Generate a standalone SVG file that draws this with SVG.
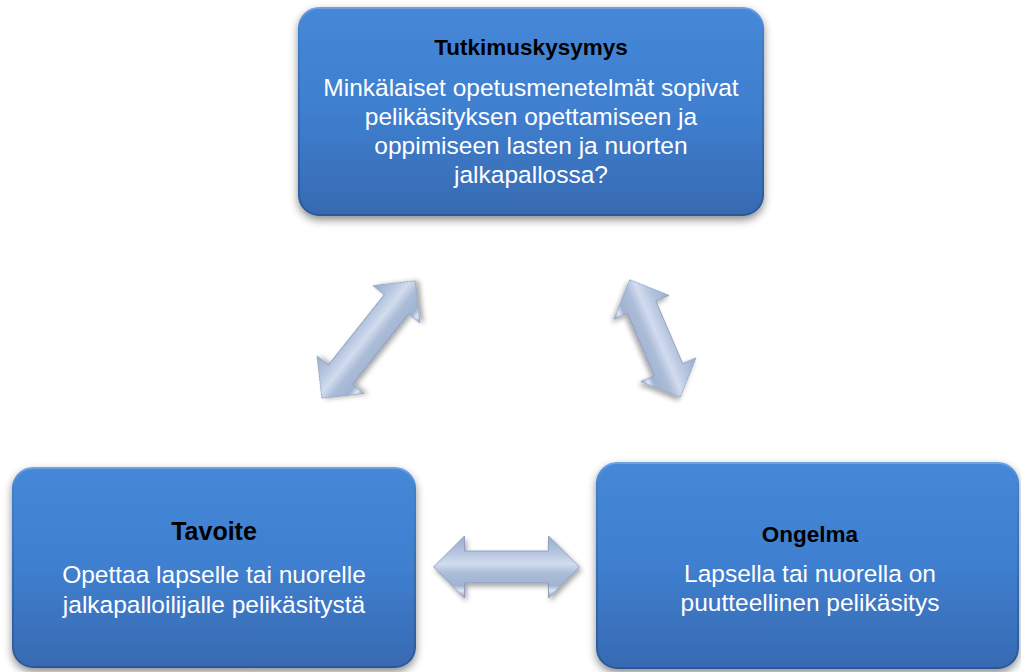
<svg xmlns="http://www.w3.org/2000/svg" width="1021" height="672" viewBox="0 0 1021 672">
<defs>
<linearGradient id="boxFill" x1="0" y1="0" x2="0" y2="1">
<stop offset="0" stop-color="#4687d7"/>
<stop offset="0.5" stop-color="#3f7fcf"/>
<stop offset="1" stop-color="#376ab2"/>
</linearGradient>
<linearGradient id="boxEdge" x1="0" y1="0" x2="0" y2="1">
<stop offset="0" stop-color="#6fa3e3"/>
<stop offset="0.1" stop-color="#4080cc"/>
<stop offset="1" stop-color="#2c5896"/>
</linearGradient>
<linearGradient id="arrowFill" gradientUnits="userSpaceOnUse" x1="0" y1="-32" x2="0" y2="32">
<stop offset="0" stop-color="#98aacb"/>
<stop offset="0.3" stop-color="#b9c8e1"/>
<stop offset="0.45" stop-color="#d2dcee"/>
<stop offset="0.6" stop-color="#abbcd8"/>
<stop offset="0.79" stop-color="#a1b3d2"/>
<stop offset="0.87" stop-color="#dde6f3"/>
<stop offset="1" stop-color="#7c8daf"/>
</linearGradient>
<filter id="shadow" x="-10%" y="-10%" width="120%" height="130%">
<feDropShadow dx="0" dy="4" stdDeviation="4" flood-color="#000" flood-opacity="0.45"/>
</filter>
<filter id="ashadow" x="-20%" y="-20%" width="140%" height="140%">
<feDropShadow dx="2" dy="3" stdDeviation="2.5" flood-color="#000" flood-opacity="0.35"/>
</filter>
</defs>
<style>
.box{fill:url(#boxFill);stroke:url(#boxEdge);stroke-width:2;filter:url(#shadow)}
.title{font-family:"Liberation Sans",Arial,sans-serif;font-weight:bold;fill:#000;text-anchor:middle}
.body{font-family:"Liberation Sans",Arial,sans-serif;font-size:24.5px;fill:#fff;text-anchor:middle}
.arrow{fill:url(#arrowFill);stroke:#8494b4;stroke-width:0.8;filter:url(#ashadow)}
</style>
<rect width="1021" height="672" fill="#fff"/>

<g id="connectors">
<g transform="translate(368.5,339.5) rotate(-51.5)">
<path class="arrow" d="M-75,0 L-45,-30 L-45,-15.5 L45,-15.5 L45,-30 L75,0 L45,30 L45,15.5 L-45,15.5 L-45,30 Z"/>
</g>
<g transform="translate(655,338.5) rotate(66.8)">
<path class="arrow" d="M-64,0 L-34,-30 L-34,-15.5 L34,-15.5 L34,-30 L64,0 L34,30 L34,15.5 L-34,15.5 L-34,30 Z"/>
</g>
<g transform="translate(506.5,567)">
<path class="arrow" d="M-73,0 L-42,-31 L-42,-16 L42,-16 L42,-31 L73,0 L42,31 L42,16 L-42,16 L-42,31 Z"/>
</g>
</g>

<g id="node-tutkimuskysymys">
<rect class="box" x="299" y="8" width="464" height="207" rx="20"/>
<text class="title" x="531" y="55" font-size="22.5">Tutkimuskysymys</text>
<text class="body" x="531" y="96">Minkälaiset opetusmenetelmät sopivat</text>
<text class="body" x="531" y="125">pelikäsityksen opettamiseen ja</text>
<text class="body" x="531" y="154">oppimiseen lasten ja nuorten</text>
<text class="body" x="531" y="183">jalkapallossa?</text>
</g>

<g id="node-tavoite">
<rect class="box" x="13" y="468" width="402" height="199" rx="20"/>
<text class="title" x="214" y="540" font-size="25">Tavoite</text>
<text class="body" x="214" y="583">Opettaa lapselle tai nuorelle</text>
<text class="body" x="214" y="613">jalkapalloilijalle pelikäsitystä</text>
</g>

<g id="node-ongelma">
<rect class="box" x="597" y="463" width="421" height="205" rx="20"/>
<text class="title" x="810" y="542" font-size="22.5">Ongelma</text>
<text class="body" x="810" y="582">Lapsella tai nuorella on</text>
<text class="body" x="810" y="611">puutteellinen pelikäsitys</text>
</g>
</svg>
